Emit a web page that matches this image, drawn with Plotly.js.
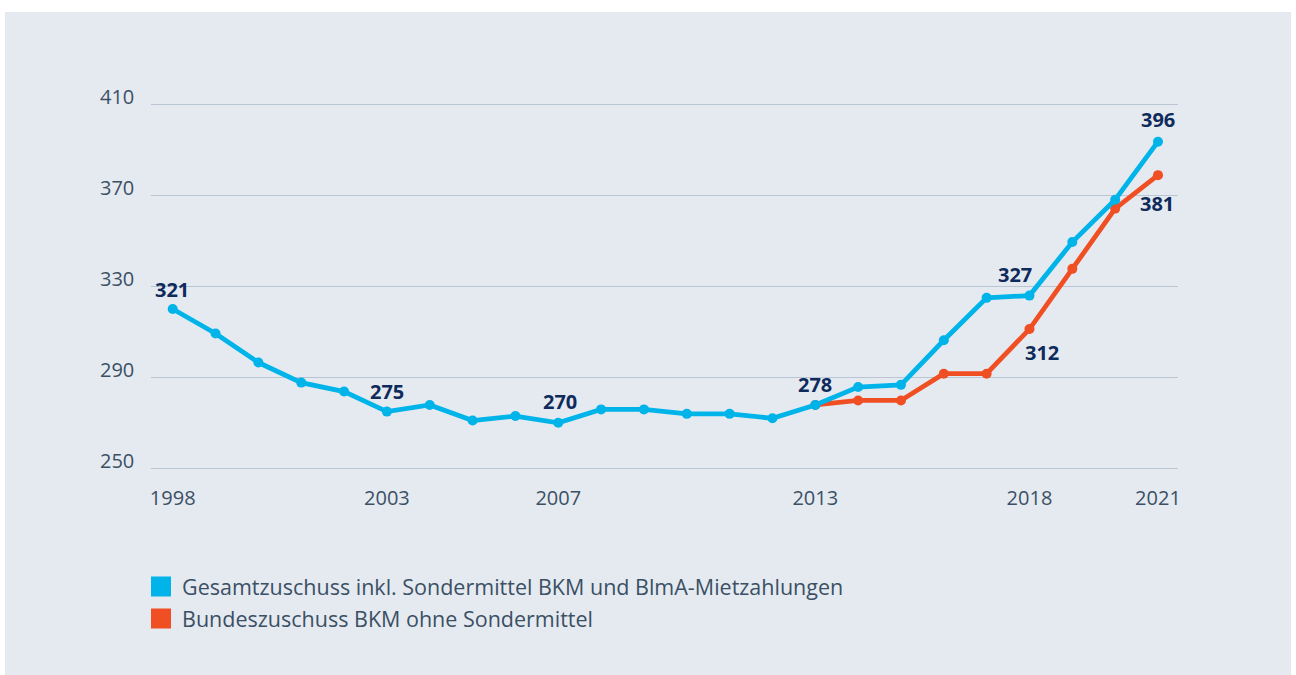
<!DOCTYPE html>
<html><head><meta charset="utf-8">
<script src="https://cdn.plot.ly/plotly-3.0.1.min.js"></script>
<style>
html,body{margin:0;padding:0;background:#ffffff;}
#chart{position:absolute;left:5px;top:12px;width:1286px;height:663px;}
</style></head><body><div id="chart"></div>
<script>
// ---- data ----
const years = [1998,1999,2000,2001,2002,2003,2004,2005,2006,2007,2008,2009,2010,2011,2012,2013,2014,2015,2016,2017,2018,2019,2020,2021];
const gesamt = [321,310,297,288,284,275,278,271,273,270,276,276,274,274,272,278,286,287,307,326,327,351,370,396];
const bundYears = [2013,2014,2015,2016,2017,2018,2019,2020,2021];
const bund = [278,280,280,292,292,312,339,366,381];
const yTicks = [250,290,330,370,410];
const xTicks = [1998,2003,2007,2013,2018,2021];
const gesamtLabelYears = [1998,2003,2007,2013,2018,2021];
const bundLabelYears = [2018,2021];
const seriesNames = ['Gesamtzuschuss inkl. Sondermittel BKM und BlmA-Mietzahlungen','Bundeszuschuss BKM ohne Sondermittel'];

// ---- style ----
const BLUE = '#00b4ea';
const ORANGE = '#f04f23';
const NAVY = '#0f2b5b';
const TXT = '#3b5064';
const FONT = 'Open Sans, Noto Sans, sans-serif';
const gesamtShift = {1998:[-1,20],2003:[0,20],2007:[2,21],2013:[0,20.5],2018:[-14,21],2021:[0,22]};
const bundShift = {2018:[13,-23],2021:[-1,-28]};

const traces = [
  {x: bundYears, y: bund, yaxis:'y2', mode:'lines+markers', showlegend:false, cliponaxis:false,
   line:{color:ORANGE,width:4.8}, marker:{color:ORANGE,size:10}, hoverinfo:'x+y'},
  {x: years, y: gesamt, yaxis:'y2', mode:'lines+markers', showlegend:false, cliponaxis:false,
   line:{color:BLUE,width:4.8}, marker:{color:BLUE,size:10}, hoverinfo:'x+y'},
  {x:[null], y:[null], yaxis:'y2', mode:'markers', name: seriesNames[0], legendgroup:'a',
   marker:{symbol:'square', size:16, color:BLUE, line:{color:BLUE,width:4}}},
  {x:[null], y:[null], yaxis:'y2', mode:'markers', name: seriesNames[1], legendgroup:'b',
   marker:{symbol:'square', size:16, color:ORANGE, line:{color:ORANGE,width:4}}}
];

const annotations = [];
yTicks.forEach(t => annotations.push({xref:'paper', x:0, xanchor:'right', xshift:-15,
  yref:'y', y:t, yanchor:'middle', yshift:7.5, text:String(t), showarrow:false,
  font:{family:FONT, size:20, color:TXT}}));
gesamtLabelYears.forEach(yr => {
  const v = gesamt[years.indexOf(yr)];
  annotations.push({xref:'x', x:yr, yref:'y2', y:v, xshift:gesamtShift[yr][0], yshift:gesamtShift[yr][1],
    text:String(v), showarrow:false, xanchor:'center', yanchor:'middle',
    font:{family:FONT, size:20, color:NAVY, weight:700}});
});
bundLabelYears.forEach(yr => {
  const v = bund[bundYears.indexOf(yr)];
  annotations.push({xref:'x', x:yr, yref:'y2', y:v, xshift:bundShift[yr][0], yshift:bundShift[yr][1],
    text:String(v), showarrow:false, xanchor:'center', yanchor:'middle',
    font:{family:FONT, size:20, color:NAVY, weight:700}});
});

const layout = {
  width:1286, height:663,
  paper_bgcolor:'#e5eaf1', plot_bgcolor:'rgba(0,0,0,0)',
  margin:{l:146, r:113, t:88, b:203, pad:0, autoexpand:false},
  font:{family:FONT, color:TXT, size:20},
  xaxis:{range:[1997.493,2021.467], tickvals:xTicks, ticktext:xTicks.map(String), ticks:'', tickangle:0,
    showgrid:false, zeroline:false, showline:false, ticklabelstandoff:12, automargin:false,
    tickfont:{family:FONT, size:20, color:TXT}, fixedrange:true},
  yaxis:{range:[248.37,411.89], tickvals:yTicks, showticklabels:false, ticks:'', automargin:false,
    showgrid:true, gridcolor:'#b9c5d3', gridwidth:1, zeroline:false, showline:false, fixedrange:true},
  yaxis2:{overlaying:'y', range:[247.93,414.69], visible:false, showgrid:false, zeroline:false, fixedrange:true},
  showlegend:true,
  legend:{x:-0.0107, y:-0.2527, xanchor:'left', yanchor:'top', itemwidth:32,
    bgcolor:'rgba(0,0,0,0)', traceorder:'grouped', tracegroupgap:1,
    font:{family:FONT, size:21.5, color:TXT}},
  annotations: annotations
};

Plotly.newPlot('chart', traces, layout, {displayModeBar:false, staticPlot:true});
</script></body></html>
